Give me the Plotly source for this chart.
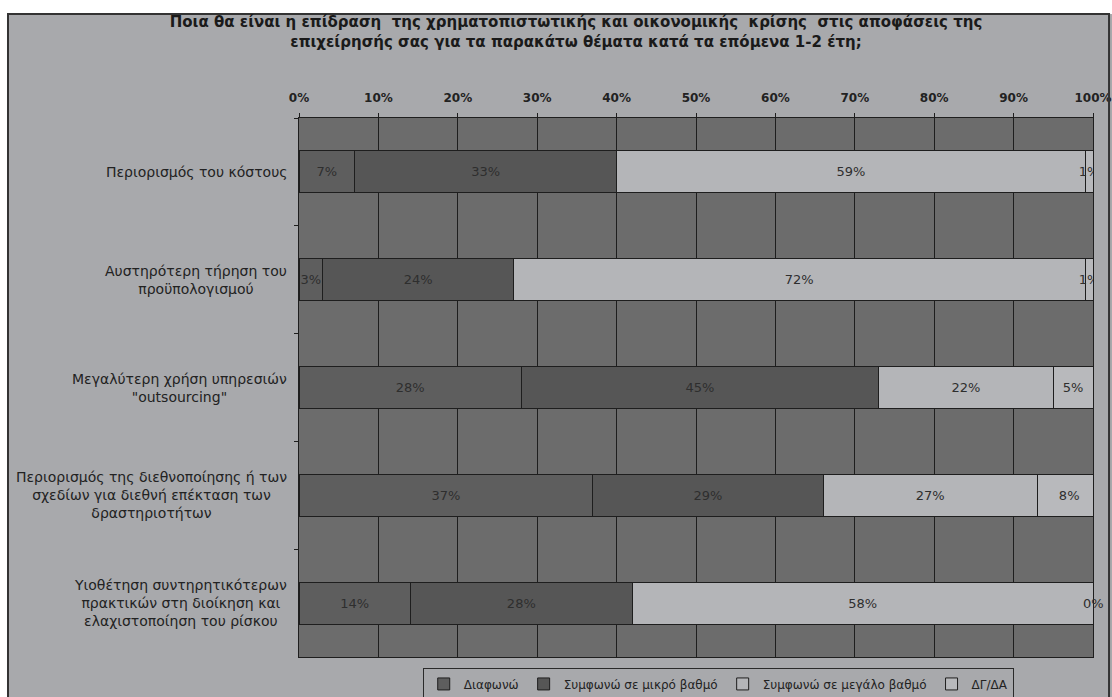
import plotly.graph_objects as go

categories = [
    "Περιορισμός του κόστους",
    "Αυστηρότερη τήρηση του<br>προϋπολογισμού",
    "Μεγαλύτερη χρήση υπηρεσιών<br>\"outsourcing\"",
    "Περιορισμός της διεθνοποίησης ή των<br>σχεδίων για διεθνή επέκταση των<br>δραστηριοτήτων",
    "Υιοθέτηση συντηρητικότερων<br>πρακτικών στη διοίκηση και<br>ελαχιστοποίηση του ρίσκου",
]
cat_ids = ["c1", "c2", "c3", "c4", "c5"]

series_names = ["Διαφωνώ", "Συμφωνώ σε μικρό βαθμό", "Συμφωνώ σε μεγάλο βαθμό", "ΔΓ/ΔΑ"]
diafono = [7, 3, 28, 37, 14]
mikro = [33, 24, 45, 29, 28]
megalo = [59, 72, 22, 27, 58]
dg_da = [1, 1, 5, 8, 0]
series_values = [diafono, mikro, megalo, dg_da]
series_colors = ["#5e5e5e", "#565656", "#b4b5b8", "#b8b9bc"]

x_ticks = [0, 10, 20, 30, 40, 50, 60, 70, 80, 90, 100]
x_tick_labels = [f"{t}%" for t in x_ticks]

title_text = ("Ποια θα είναι η επίδραση  της χρηματοπιστωτικής και οικονομικής  κρίσης  στις αποφάσεις της<br>"
              "επιχείρησής σας για τα παρακάτω θέματα κατά τα επόμενα 1-2 έτη;")

FONT = "DejaVu Sans, Liberation Sans, Arial"
LABEL_COLOR = "#2e2e2e"
FRAME_FILL = "#a8a9ac"

fig = go.Figure()
cum = [0] * len(cat_ids)
for name, vals, col in zip(series_names, series_values, series_colors):
    fig.add_trace(go.Bar(
        y=cat_ids, x=vals, name=name, orientation="h",
        marker=dict(color=col, line=dict(color="#1e1e1e", width=1)),
        text=[f"{v}%" if v > 0 else "" for v in vals],
        textposition="inside", insidetextanchor="middle",
        constraintext="none", textangle=0,
        textfont=dict(family=FONT, size=13, color=LABEL_COLOR),
        hoverinfo="x+name",
    ))
    # zero-width segments still get their label at the stack position
    for i, v in enumerate(vals):
        if v == 0:
            fig.add_annotation(x=cum[i], y=cat_ids[i], xref="x", yref="y",
                               text=f"{v}%", showarrow=False,
                               font=dict(family=FONT, size=13, color=LABEL_COLOR))
        cum[i] += v

for cid, label in zip(cat_ids, categories):
    fig.add_annotation(
        x=-0.012, xref="paper", y=cid, yref="y",
        text=label, showarrow=False, xanchor="right", yanchor="middle",
        align="center",
        font=dict(family=FONT, size=14, color="#222222"),
    )

# white margins outside the scanned frame (top strip and left strip)
fig.add_shape(type="rect", xref="paper", yref="paper",
              x0=-0.5, x1=1.5, y0=1.193, y1=1.3,
              line=dict(width=0), fillcolor="#ffffff", layer="below")
fig.add_shape(type="rect", xref="paper", yref="paper",
              x0=-0.5, x1=-0.3665, y0=-0.2, y1=1.3,
              line=dict(width=0), fillcolor="#ffffff", layer="below")
# frame border
fig.add_shape(type="rect", xref="paper", yref="paper",
              x0=-0.3665, x1=1.0202, y0=-0.15, y1=1.193,
              line=dict(color="#333333", width=2), fillcolor="rgba(0,0,0,0)", layer="above")

fig.update_layout(
    width=1112, height=697,
    margin=dict(l=299, r=19, t=118, b=40, autoexpand=False),
    paper_bgcolor=FRAME_FILL,
    plot_bgcolor="#6c6c6c",
    barmode="stack",
    bargap=0.61,
    title=dict(text=title_text, x=0.518, xref="container", xanchor="center",
               y=1 - 27 / 697, yref="container", yanchor="top",
               font=dict(family=FONT, size=15, color="#1a1a1a", weight="bold")),
    xaxis=dict(side="top", range=[0, 100], tickmode="array", tickvals=x_ticks, ticktext=x_tick_labels,
               ticks="outside", ticklen=4, tickcolor="#1e1e1e",
               showgrid=True, gridcolor="#1e1e1e", gridwidth=1,
               showline=True, linecolor="#1e1e1e", linewidth=1, mirror=True,
               zeroline=False, ticklabelstandoff=6, automargin=False,
               tickfont=dict(family=FONT, size=12, color="#222222", weight="bold")),
    yaxis=dict(autorange="reversed", categoryorder="array", categoryarray=cat_ids,
               showticklabels=False, ticks="outside", tickson="boundaries", ticklen=4,
               tickcolor="#1e1e1e", showgrid=False, showline=True, linecolor="#1e1e1e",
               linewidth=1, mirror=True, automargin=False),
    legend=dict(orientation="h", x=0.528, xanchor="center", y=-0.05, yanchor="middle",
                bgcolor=FRAME_FILL, bordercolor="#2a2a2a", borderwidth=1,
                font=dict(family=FONT, size=12, color="#222222"),
                traceorder="normal", itemwidth=30),
    showlegend=True,
)

fig.write_html("out.html")
